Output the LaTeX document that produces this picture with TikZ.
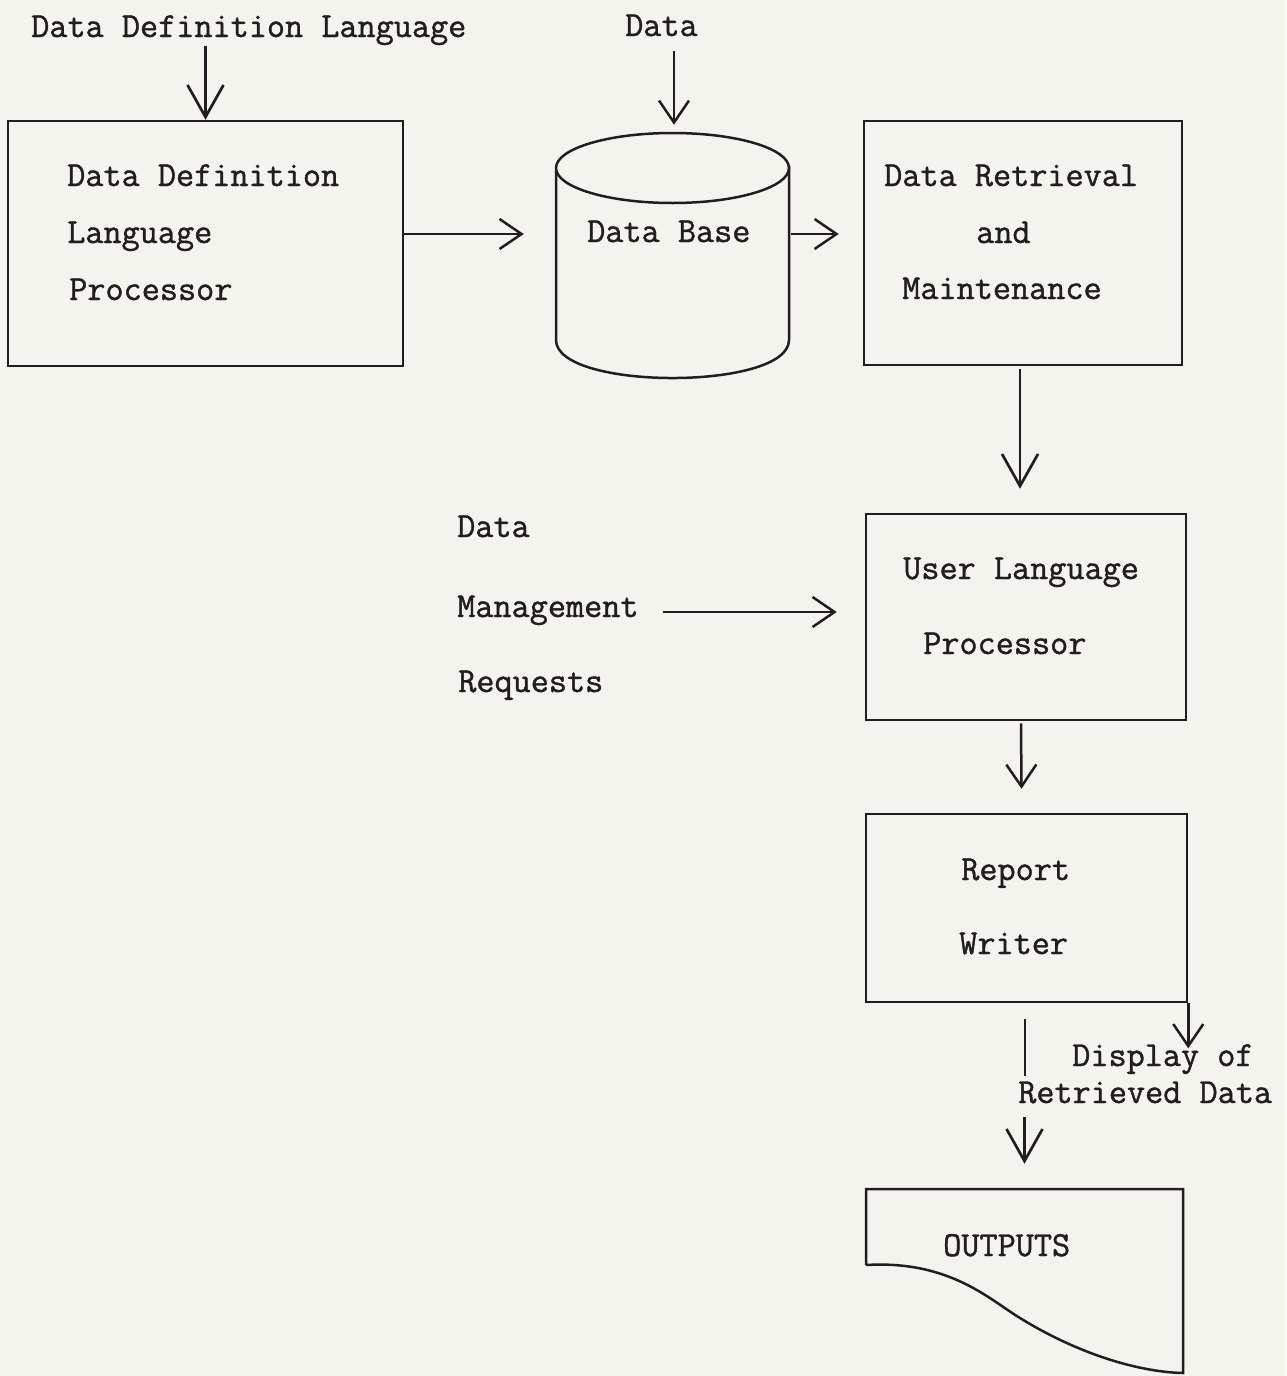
\documentclass[tikz,border=0pt]{standalone}
\usepackage{fontspec}
\newfontfamily\twfont{Latin Modern Mono}[RawFeature={embolden=1.2}]
\usetikzlibrary{arrows.meta}
\definecolor{bg}{RGB}{244,244,239}
\definecolor{ink}{RGB}{32,30,30}
\begin{document}
\begin{tikzpicture}[x=1pt,y=-1pt,line width=2.5pt,draw=ink,
  box/.style={draw,rectangle,inner sep=0pt},
  txt/.style={anchor=base west,inner sep=0pt,text=ink,font=\fontsize{35.2}{40}\selectfont\twfont},
  arr/.style={-{Straight Barb[length=22pt,width=30pt,line width=2.5pt]}},
  bigarr/.style={-{Straight Barb[length=32pt,width=36pt,line width=2.7pt]}}]
\fill[bg] (0,0) rectangle (1286,1376);
\useasboundingbox (0,0) rectangle (1286,1376);

% boxes
\node[box,minimum width=395pt,minimum height=245pt] (ddlp) at (205.5,243.5) {};
\node[box,minimum width=318pt,minimum height=244pt] (drm) at (1023,243) {};
\node[box,minimum width=320pt,minimum height=206pt] (ulp) at (1026,617) {};
\node[box,minimum width=321pt,minimum height=188pt] (rw) at (1026.5,908) {};

% data base cylinder
\node[inner sep=0pt,minimum width=233pt,minimum height=245pt] (db) at (672.5,255.5) {};
\draw (556,170) -- (556,340) .. controls (556,390.7) and (789,390.7) .. (789,340) -- (789,166);
\draw (672.5,168) ellipse [x radius=116.5, y radius=35];

% outputs document
\node[inner sep=0pt,minimum width=317pt,minimum height=184pt] (out) at (1024.5,1281) {};
\draw (866,1265) -- (866,1189) -- (1183,1189) -- (1183,1373)
  .. controls (1140,1372) and (1080,1355) .. (1020,1318)
  .. controls (990,1300) and (950,1260) .. (866,1265);

% texts
\node[txt] (ddl) at (30,37) {Data Definition Language};
\node[txt] (t1a) at (66,186) {Data Definition};
\node[txt] (t1b) at (66,243) {Language};
\node[txt] (t1c) at (68,300) {Processor};
\node[txt] (datatop) at (624,36) {Data};
\node[txt] (dbt) at (586,242) {Data Base};
\node[txt] (t3a) at (883,186) {Data Retrieval};
\node[txt] (t3b) at (975,243) {and};
\node[txt] (t3c) at (901,299) {Maintenance};
\node[txt] (dmr1) at (456,537) {Data};
\node[txt] (dmr2) at (456,617) {Management};
\node[txt] (dmr3) at (457,692) {Requests};
\node[txt] (t4a) at (902,579) {User Language};
\node[txt] (t4b) at (922,654) {Processor};
\node[txt] (t5a) at (960,880) {Report};
\node[txt] (t5b) at (958,954) {Writer};
\node[txt] (disp1) at (1071,1066) {Display of};
\node[txt] (disp2) at (1017,1103) {Retrieved Data};
\node[txt] (outt) at (942,1256) {OUTPUTS};

% connectors
\draw[bigarr] (ddlp.north |- ddl.south) -- (ddlp.north);
\draw[arr] ([xshift=1.5pt,yshift=-14pt]db.north |- datatop.south) -- ([xshift=1.5pt,yshift=7pt]db.north);
\draw[arr] ([yshift=9.5pt]ddlp.east) -- ([yshift=9.5pt,xshift=-31pt]ddlp.east -| db.west);
\draw[arr] ([yshift=21.5pt,xshift=1pt]db.east) -- ([yshift=21.5pt,xshift=-24pt]db.east -| drm.west);
\draw[bigarr] ([xshift=-3pt,yshift=-3pt]drm.south) -- ([xshift=-6pt,yshift=24pt]ulp.north);
\draw[arr] ([xshift=-5pt,yshift=-2pt]ulp.south) -- ([xshift=-5pt,yshift=24pt]rw.north);
\draw[arr] ([xshift=23pt,yshift=5pt]dmr2.base east) -- ([xshift=-28pt,yshift=5pt]ulp.west |- dmr2.base east);
\draw[arr] (rw.south east) -- ++(0,45);
\draw ([xshift=-1.5pt,yshift=-16pt]rw.south) -- ([xshift=-1.5pt,yshift=-73pt]rw.south);
\draw[bigarr] ([yshift=71pt]out.north) -- ([yshift=24pt]out.north);
\end{tikzpicture}
\end{document}
